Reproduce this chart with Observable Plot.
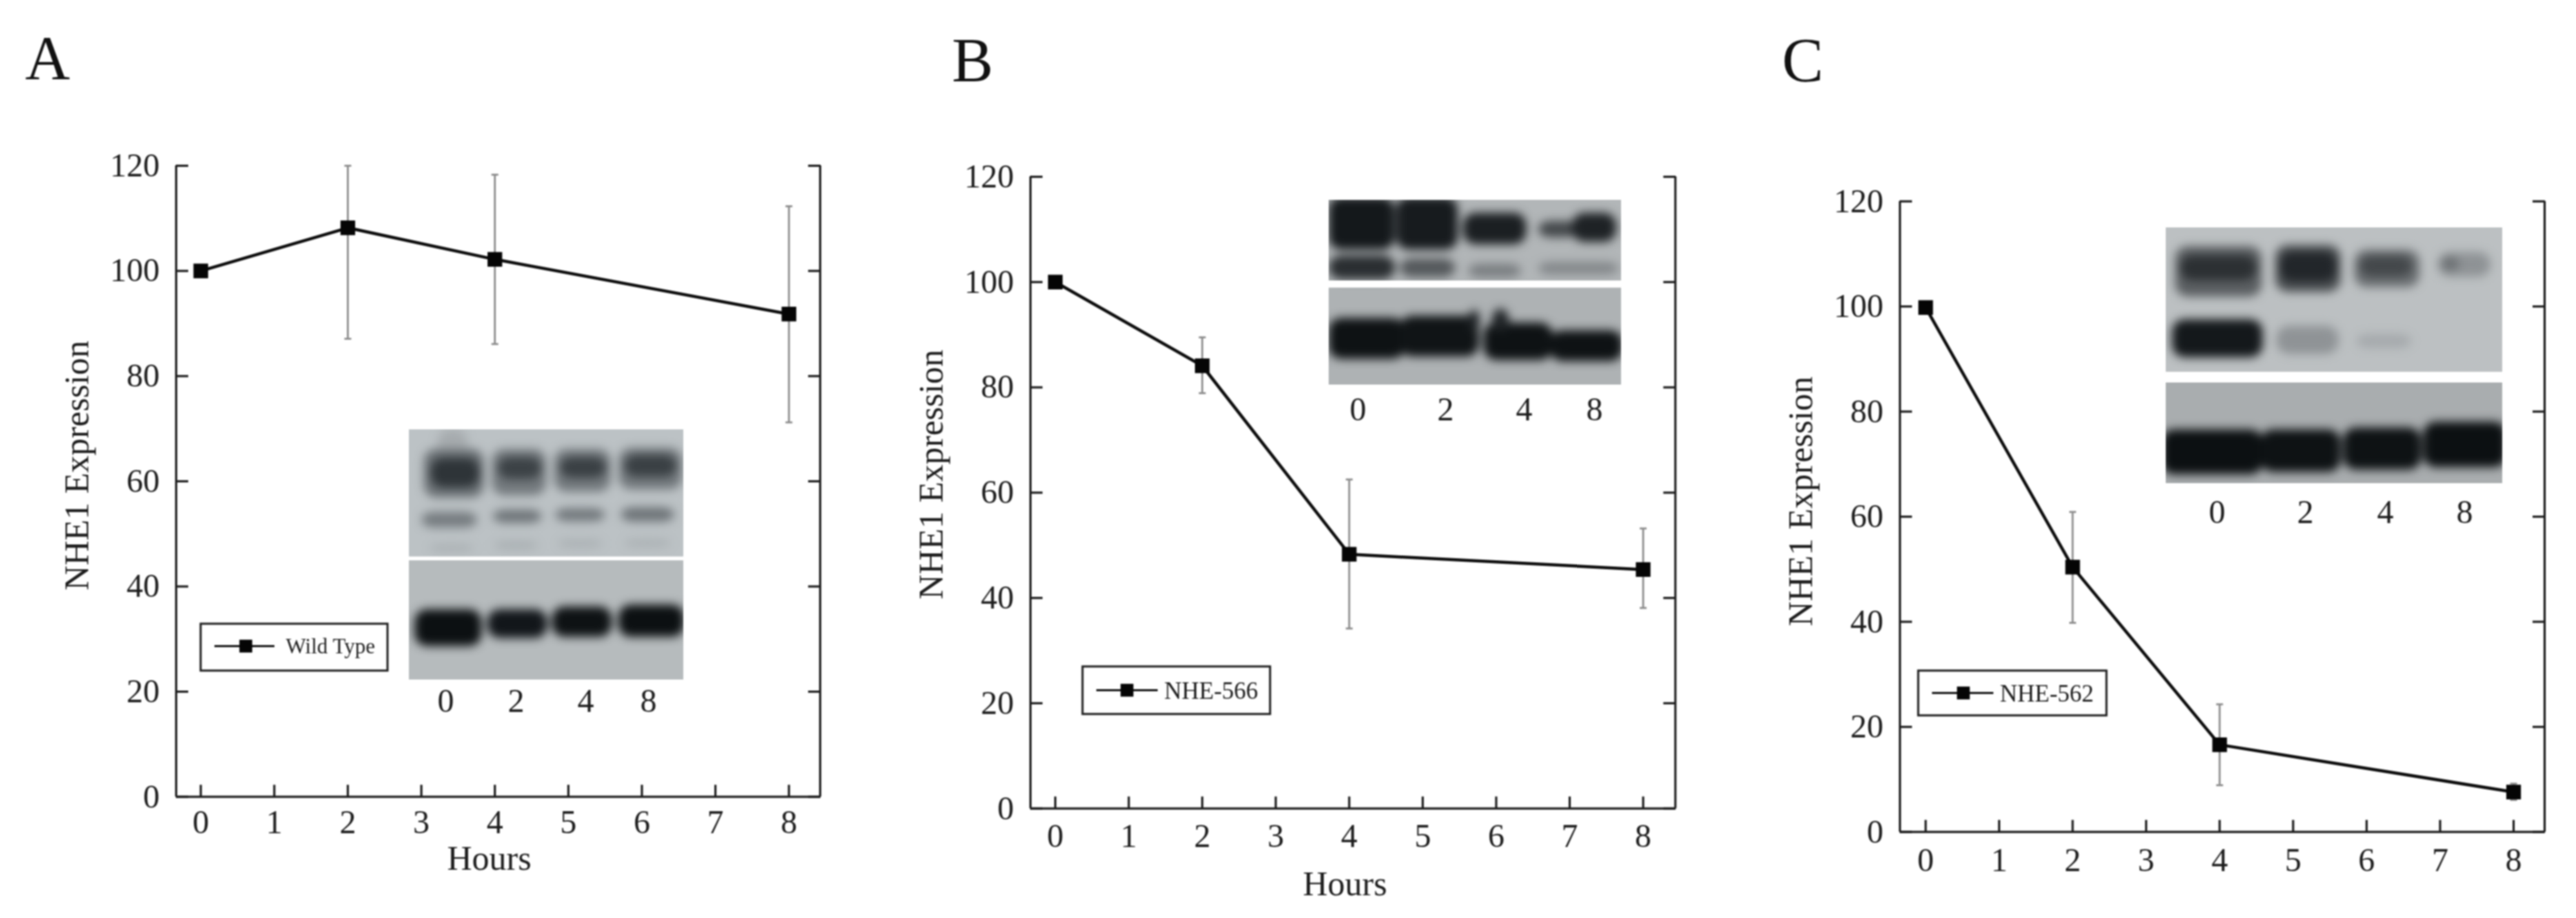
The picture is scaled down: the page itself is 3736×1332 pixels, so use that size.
<!DOCTYPE html>
<html><head><meta charset="utf-8">
<script src="https://cdn.jsdelivr.net/npm/d3@7"></script>
<script src="https://cdn.jsdelivr.net/npm/@observablehq/plot@0.6"></script>
<style>
html,body{margin:0;padding:0;background:#fff}
#page{position:relative;width:3736px;height:1332px;overflow:hidden;background:#fff}
#page svg{position:absolute;filter:blur(.8px)}
</style></head><body><div id="page"></div>
<script>
const hours = [0, 2, 4, 8];
const tickHours = [0,1,2,3,4,5,6,7,8];
const tickExpr = [0,20,40,60,80,100,120];
const insetLabels = ["0","2","4","8"];

const wildMean = [100, 108.2, 102.2, 91.8];
const wildLow  = [null, 87.1, 86.1, 71.2];
const wildHigh = [null, 120, 118.3, 112.3];
const nhe566Mean = [100, 84.1, 48.3, 45.4];
const nhe566Low  = [null, 78.9, 34.2, 38.1];
const nhe566High = [null, 89.5, 62.5, 53.2];
const nhe562Mean = [99.8, 50.4, 16.6, 7.6];
const nhe562Low  = [null, 39.8, 8.9, 6.1];
const nhe562High = [null, 60.9, 24.3, 9.2];

// western-blot bands: [x1, x2, y1, y2, tone] in the inset's own picture units
const blotA = [
  [225,355,70,190,"#a6abae"],
  [165,425,155,365,"#6a7074"],[460,695,155,355,"#72787c"],[730,975,155,340,"#72787c"],[1010,1285,150,330,"#72787c"],
  [195,405,195,320,"#2e3438"],[485,675,190,285,"#3c4246"],[755,955,190,280,"#3a4044"],[1035,1260,180,275,"#3a4044"],
  [155,395,428,495,"#767c80"],[465,675,418,475,"#6e7478"],[735,950,412,468,"#72787c"],[1020,1250,408,470,"#6e7478"],
  [190,380,570,600,"#a9afb2"],[470,660,555,590,"#a9afb2"],[745,940,550,580,"#a9afb2"],[1035,1235,548,578,"#a9afb2"],
  [125,415,850,1010,"#0c1012"],[440,700,850,975,"#12161a"],[720,980,838,970,"#0e1214"],[1008,1295,830,970,"#0c1012"]
];
const blotB = [
  [820,945,335,425,"#14181b"],[948,1065,335,425,"#171b1e"],[1075,1195,362,416,"#1b1f22"],
  [1218,1295,376,404,"#44484b"],[1282,1366,362,412,"#1e2225"],
  [820,946,435,476,"#2a2e31"],[955,1060,440,472,"#55595c"],[1085,1185,449,473,"#7b7f82"],[1218,1370,446,468,"#84888b"],
  [820,965,542,612,"#0e1214"],[955,1105,538,608,"#101416"],[1085,1107,528,565,"#202427"],
  [1114,1245,550,614,"#0e1214"],[1130,1162,526,565,"#202427"],[1240,1378,563,616,"#0e1214"]
];
const blotC = [
  [806,970,420,506,"#5a5e61"],[996,1120,418,498,"#4a4e51"],[1146,1270,426,490,"#6a6e71"],[1304,1405,430,472,"#8e9295"],
  [815,960,436,478,"#2c3033"],[1005,1112,430,480,"#22262a"],[1156,1256,436,472,"#44484b"],[1312,1345,438,462,"#6c7073"],
  [800,972,545,610,"#14181b"],[998,1116,556,604,"#8f9396"],[1150,1254,570,594,"#a6aaad"],
  [780,972,733,810,"#0c1012"],[968,1120,733,806,"#0e1214"],[1125,1273,730,802,"#0e1214"],[1277,1435,720,798,"#0c1012"]
];

const panels = [
  {letter:"A", letterX:36, letterY:114, left:0, width:1240,
   frame:{l:255,r:1189,t:240,b:1155.7,x0:290.7,x8:1143.7},
   mean:wildMean, low:wildLow, high:wildHigh, name:"Wild Type", legendFont:31,
   legend:{x1:291,x2:562,y1:905,y2:973,lx1:311,lx2:398,mx:356,ly:937,tx:414},
   ylabel:{x:111,y:675}, xlabel:{x:709,y:1245}, tickGap:19,
   inset:{l:593,r:991,t:623,b:986,dx:[100,1290],dy:[1155,70],gap:[622,638],upper:"#bcc2c5",lower:"#b6bbbd",bands:blotA,
          labelX:[646,748,849,940],labelY:1017}},
  {letter:"B", letterX:1380, letterY:117, left:1240, width:1300,
   frame:{l:1494,r:2429.3,t:256,b:1172.7,x0:1530,x8:2382.6},
   mean:nhe566Mean, low:nhe566Low, high:nhe566High, name:"NHE-566", legendFont:35,
   legend:{x1:1570,x2:1842,y1:967,y2:1036,lx1:1590,lx2:1679,mx:1634,ly:1001,tx:1688},
   ylabel:{x:1350,y:688}, xlabel:{x:1950,y:1282}, tickGap:22,
   inset:{l:1927,r:2351,t:290,b:558,dx:[820,1375],dy:[656,340],gap:[478,490],upper:"#b2b6b8",lower:"#aeb2b4",bands:blotB,
          labelX:[1969,2096,2210,2312],labelY:594}},
  {letter:"C", letterX:2584, letterY:117, left:2540, width:1196,
   frame:{l:2755,r:3690,t:291.7,b:1206.7,x0:2792.3,x8:3645},
   mean:nhe562Mean, low:nhe562Low, high:nhe562High, name:"NHE-562", legendFont:35,
   legend:{x1:2782,x2:3055,y1:973,y2:1038,lx1:2802,lx2:2891,mx:2847,ly:1005,tx:2900},
   ylabel:{x:2611,y:727}, xlabel:null, tickGap:23,
   inset:{l:3141,r:3629,t:330,b:701,dx:[788,1427],dy:[825,388],gap:[635,653],upper:"#bcc0c2",lower:"#a9adaf",bands:blotC,
          labelX:[3215,3343,3459,3574],labelY:743}}
];

const ink = "#1c1c1c", font = "Liberation Serif";
const capSymbol = {draw(c){c.moveTo(-5,0);c.lineTo(5,0);}};
const page = document.getElementById("page");

for (const p of panels) {
  const f = p.frame, unit = (f.x8 - f.x0) / 8, yUnit = (f.b - f.t) / 120;
  const fx = px => (px - f.x0) / unit;
  const fy = py => (f.b - py) / yUnit;
  const rows = hours.map((h,i) => ({h, m:p.mean[i], lo:p.low[i], hi:p.high[i]}));
  const bars = rows.filter(d => d.lo != null);
  const L = p.legend, T = {fontFamily:font, fill:ink, lineAnchor:"middle"};

  const plot = Plot.plot({
    width:p.width, height:1332,
    marginLeft:f.l - p.left, marginRight:p.left + p.width - f.r, marginTop:f.t, marginBottom:1332 - f.b,
    style:{background:"transparent", fontFamily:font},
    x:{domain:[fx(f.l), fx(f.r)]},
    y:{domain:[0,120]},
    marks:[
      Plot.axisY({anchor:"left", ticks:tickExpr, tickSize:-18, tickPadding:42, fontSize:48, strokeWidth:3.2, stroke:ink, fill:ink, label:null, fontFamily:font}),
      Plot.axisY({anchor:"right", ticks:tickExpr, tickSize:-18, strokeWidth:3.2, stroke:ink, fill:"none", label:null}),
      Plot.axisX({anchor:"bottom", ticks:tickHours, tickSize:-17, tickPadding:17 + p.tickGap, fontSize:48, strokeWidth:3.2, stroke:ink, fill:ink, label:null, fontFamily:font}),
      Plot.ruleX([fx(f.l), fx(f.r)], {y1:0, y2:120, stroke:ink, strokeWidth:3.2}),
      Plot.ruleY([0], {stroke:ink, strokeWidth:3.2}),

      Plot.ruleX(bars, {x:"h", y1:"lo", y2:"hi", stroke:"#8c8c8c", strokeWidth:2.8}),
      Plot.dot(bars, {x:"h", y:"lo", symbol:capSymbol, r:5, stroke:"#8c8c8c", strokeWidth:2.8, fill:"none"}),
      Plot.dot(bars, {x:"h", y:"hi", symbol:capSymbol, r:5, stroke:"#8c8c8c", strokeWidth:2.8, fill:"none"}),
      Plot.line(rows, {x:"h", y:"m", stroke:"#0c0c0c", strokeWidth:4.5}),
      Plot.dot(rows, {x:"h", y:"m", symbol:"square", r:12, fill:"#050505", stroke:"none"}),

      Plot.rect([0], {x1:fx(L.x1), x2:fx(L.x2), y1:fy(L.y2), y2:fy(L.y1), fill:"#fff", stroke:ink, strokeWidth:3}),
      Plot.ruleY([fy(L.ly)], {x1:fx(L.lx1), x2:fx(L.lx2), stroke:"#111", strokeWidth:3.2}),
      Plot.dot([0], {x:()=>fx(L.mx), y:()=>fy(L.ly), symbol:"square", r:10.5, fill:"#050505", stroke:"none"}),
      Plot.text([p.name], {x:()=>fx(L.tx), y:()=>fy(L.ly + 1), text:d=>d, textAnchor:"start", fontSize:p.legendFont, ...T}),

      Plot.text(insetLabels, {x:(d,i)=>fx(p.inset.labelX[i]), y:()=>fy(p.inset.labelY), text:d=>d, fontSize:48, ...T}),
      Plot.text(["NHE1 Expression"], {x:()=>fx(p.ylabel.x), y:()=>fy(p.ylabel.y), text:d=>d, rotate:-90, fontSize:50, ...T}),
      p.xlabel ? Plot.text(["Hours"], {x:()=>fx(p.xlabel.x), y:()=>fy(p.xlabel.y), text:d=>d, fontSize:50, ...T}) : null,
      Plot.text([p.letter], {x:()=>fx(p.letterX), y:()=>fy(p.letterY), text:d=>d, fontSize:90, textAnchor:"start", fontFamily:font, fill:"#111", lineAnchor:"bottom"})
    ]
  });
  plot.style.left = p.left + "px";
  plot.style.top = "0px";
  page.appendChild(plot);

  const I = p.inset;
  const blot = Plot.plot({
    width:I.r - I.l, height:I.b - I.t,
    marginLeft:0, marginRight:0, marginTop:0, marginBottom:0,
    style:{background:"transparent"},
    x:{domain:I.dx, axis:null}, y:{domain:I.dy, axis:null},
    color:{type:"identity"},
    marks:[
      Plot.rect([0], {x1:I.dx[0], x2:I.dx[1], y1:I.dy[1], y2:I.gap[0], fill:I.upper}),
      Plot.rect([0], {x1:I.dx[0], x2:I.dx[1], y1:I.gap[1], y2:I.dy[0], fill:I.lower}),
      Plot.rect(I.bands, {x1:d=>d[0], x2:d=>d[1], y1:d=>d[2], y2:d=>d[3], fill:d=>d[4], rx:18, imageFilter:"blur(7px)"}),
      Plot.rect([0], {x1:I.dx[0], x2:I.dx[1], y1:I.gap[0], y2:I.gap[1], fill:"#fff"})
    ]
  });
  blot.style.left = I.l + "px";
  blot.style.top = I.t + "px";
  page.appendChild(blot);
}
</script></body></html>
